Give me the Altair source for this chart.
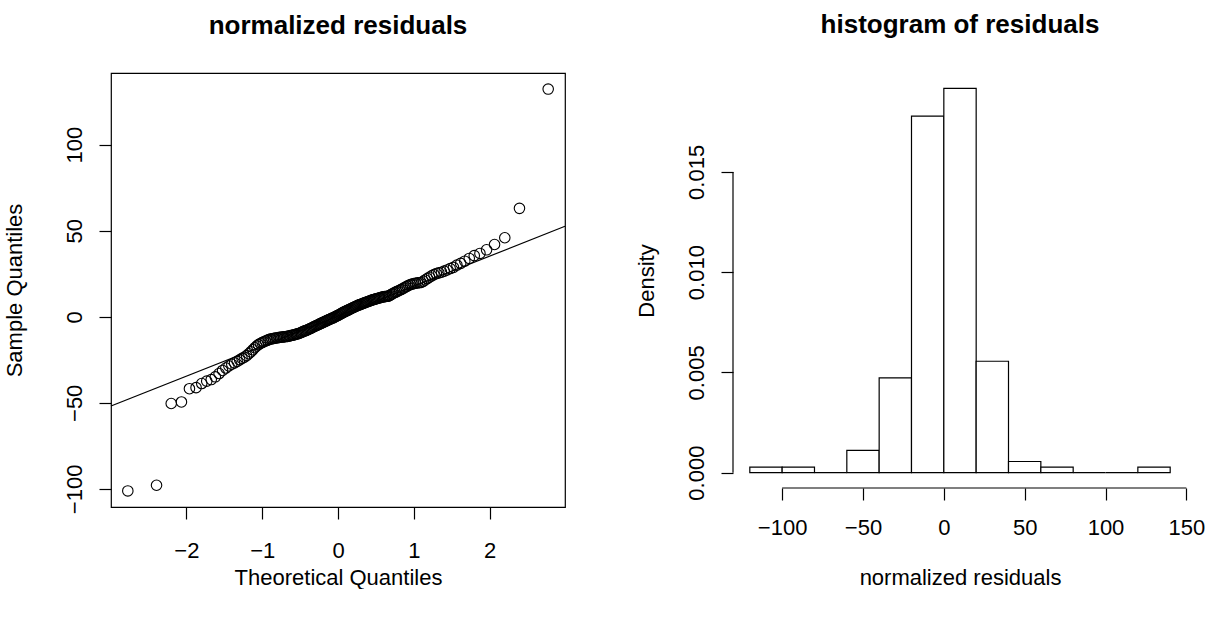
import altair as alt
import numpy as np
import pandas as pd
from statistics import NormalDist

# Sorted normalized residuals (n = 180)
residuals = [
    -101.2, -97.9, -50.4, -49.5, -41.8, -41.2, -38.8, -37.4, -36.5, -34.9, -33.0, -31.2, -29.8,
    -28.6, -27.6, -26.8, -25.9, -25.0, -24.2, -23.5, -22.6, -21.5, -20.4, -19.2, -18.0, -17.0,
    -16.2, -15.5, -15.0, -14.5, -14.1, -13.7, -13.3,
    -13.0, -12.8, -12.6, -12.4, -12.3, -12.2, -12.0, -11.9, -11.8, -11.7, -11.6, -11.5, -11.4,
    -11.2, -11.0, -10.8, -10.7, -10.5, -10.3, -10.1, -9.9, -9.7, -9.4, -9.1, -8.8, -8.5, -8.2,
    -8.0, -7.7, -7.4, -7.1, -6.8, -6.5, -6.1, -5.8, -5.5, -5.2, -4.9, -4.6, -4.3, -4.0, -3.7,
    -3.4, -3.1, -2.8, -2.5, -2.2, -1.9, -1.6, -1.4, -1.1, -0.8, -0.6, -0.3, 0.1, 0.4, 0.7,
    1.0, 1.3, 1.7, 2.0, 2.4, 2.7, 3.0, 3.3, 3.6, 3.9, 4.2, 4.5, 4.8, 5.1, 5.4, 5.7, 6.0, 6.3,
    6.6, 6.8, 7.1, 7.3, 7.6, 7.8, 8.1, 8.3, 8.6, 8.8, 9.0, 9.3, 9.5, 9.8, 10.0, 10.2, 10.4,
    10.6, 10.8, 11.0, 11.2, 11.4, 11.6, 11.7, 11.8, 11.9,
    12.0, 12.4, 12.9, 13.4, 13.8, 14.2, 14.6, 15.0, 15.4, 15.8, 16.3, 16.8, 17.3, 17.8, 18.3,
    18.7, 19.0, 19.3, 19.5, 19.7, 19.8, 19.9,
    20.6, 21.4, 22.2, 23.0, 23.8, 24.5, 25.1, 25.5, 25.9, 26.5, 27.2, 28.0, 28.7, 30.0, 31.0,
    32.3, 33.9, 35.5, 36.8, 38.9, 42.0, 45.9, 63.0, 132.3,
]

qq_x_ticks = [-2, -1, 0, 1, 2]
qq_y_ticks = [-100, -50, 0, 50, 100]
hist_breaks = list(range(-120, 141, 20))
hist_x_ticks = [-100, -50, 0, 50, 100, 150]
hist_y_ticks = [0.0, 0.005, 0.010, 0.015]

FONT = "Liberation Sans"
MINUS = "replace(datum.label, '-', '\u2212')"

# ---- normal Q-Q data -------------------------------------------------------
nd = NormalDist()
sample = sorted(residuals)
n = len(sample)
theo = [nd.inv_cdf((i + 0.5) / n) for i in range(n)]  # ppoints(n), a = 0.5
qq = pd.DataFrame({"theoretical": theo, "sample": sample})

# reference line through the first and third quartiles
q1, q3 = np.quantile(sample, [0.25, 0.75])
z1, z3 = nd.inv_cdf(0.25), nd.inv_cdf(0.75)
slope = (q3 - q1) / (z3 - z1)
intercept = q1 - slope * z1


def padded(lo, hi, frac=0.04):
    d = (hi - lo) * frac
    return [lo - d, hi + d]


qx_dom = padded(min(theo), max(theo))
qy_dom = padded(min(sample), max(sample))
qqline = pd.DataFrame({"theoretical": qx_dom,
                       "sample": [intercept + slope * x for x in qx_dom]})

# ---- histogram data (right-closed bins) ------------------------------------
counts = pd.cut(pd.Series(sample), bins=hist_breaks, right=True,
                include_lowest=True).value_counts(sort=False).values
hist = pd.DataFrame({"lo": hist_breaks[:-1], "hi": hist_breaks[1:], "count": counts})
hist["density"] = hist["count"] / (n * (hist["hi"] - hist["lo"]))
hist["base"] = 0.0
hx_dom = padded(hist_breaks[0], hist_breaks[-1])
hy_dom = padded(0.0, float(hist["density"].max()))

W = 454
HL = 434
HR = 415

# ---- left panel: normal Q-Q plot ------------------------------------------
qx_scale = alt.Scale(domain=qx_dom, nice=False, zero=False)
qy_scale = alt.Scale(domain=qy_dom, nice=False, zero=False)
qx_axis = alt.Axis(values=qq_x_ticks, title="Theoretical Quantiles", domain=False,
                   labelExpr=MINUS, labelPadding=21, titleX=W / 2, titleY=77,
                   titleAlign="center", titleBaseline="alphabetic")
qy_axis = alt.Axis(values=qq_y_ticks, title="Sample Quantiles", domain=False,
                   labelExpr=MINUS, labelAngle=270, labelAlign="center",
                   labelBaseline="alphabetic", labelPadding=18,
                   titleAngle=270, titleX=-90, titleY=HL / 2,
                   titleAlign="center", titleBaseline="alphabetic")

points = alt.Chart(qq).mark_point(
    shape="circle", filled=False, color="black", size=110, strokeWidth=1.1, opacity=1
).encode(
    x=alt.X("theoretical:Q", scale=qx_scale, axis=qx_axis),
    y=alt.Y("sample:Q", scale=qy_scale, axis=qy_axis),
)

ref_line = alt.Chart(qqline).mark_line(color="black", strokeWidth=1.2).encode(
    x=alt.X("theoretical:Q", scale=qx_scale, axis=qx_axis),
    y=alt.Y("sample:Q", scale=qy_scale, axis=qy_axis),
)

left = alt.layer(points, ref_line).properties(
    width=W, height=HL,
    title=alt.TitleParams("normalized residuals", anchor="middle", baseline="alphabetic",
                          offset=13),
    view=alt.ViewBackground(stroke="black", strokeWidth=1.2, strokeOpacity=1),
)

# ---- right panel: histogram ------------------------------------------------
hx_scale = alt.Scale(domain=hx_dom, nice=False, zero=False)
hy_scale = alt.Scale(domain=hy_dom, nice=False, zero=False)
hx_axis = alt.Axis(values=hist_x_ticks, title="normalized residuals", domain=False,
                   labelExpr=MINUS, labelPadding=17, titleX=W / 2, titleY=96,
                   titleAlign="center", titleBaseline="alphabetic")
hy_axis = alt.Axis(values=hist_y_ticks, title="Density", domain=False, format=".3f",
                   labelAngle=270, labelAlign="center", labelBaseline="alphabetic",
                   labelPadding=18, titleAngle=270, titleX=-80, titleY=HR / 2,
                   titleAlign="center", titleBaseline="alphabetic")

bars = alt.Chart(hist).mark_rect(fill="white", stroke="black", strokeWidth=1.2).encode(
    x=alt.X("lo:Q", scale=hx_scale, axis=hx_axis),
    x2="hi:Q",
    y=alt.Y("density:Q", scale=hy_scale, axis=hy_axis),
    y2="base:Q",
)

# axis lines spanning only the first to last tick
x_axis_line = alt.Chart(
    pd.DataFrame({"lo": [hist_x_ticks[0]], "hi": [hist_x_ticks[-1]]})
).mark_rule(color="black", strokeWidth=1.2).encode(
    x=alt.X("lo:Q", scale=hx_scale, axis=hx_axis), x2="hi:Q", y=alt.value(HR)
)
y_axis_line = alt.Chart(
    pd.DataFrame({"density": [hist_y_ticks[-1]], "base": [hist_y_ticks[0]]})
).mark_rule(color="black", strokeWidth=1.2).encode(
    y=alt.Y("density:Q", scale=hy_scale, axis=hy_axis), y2="base:Q", x=alt.value(0)
)

right = alt.layer(bars, x_axis_line, y_axis_line).properties(
    width=W, height=HR,
    title=alt.TitleParams("histogram of residuals", anchor="middle", baseline="alphabetic",
                          offset=14),
)

chart = alt.hconcat(left, right, spacing=66).properties(
    padding={"left": 2, "top": 11, "right": 0, "bottom": 0},
    background="white",
).configure_view(
    stroke="transparent"
).configure_axis(
    labelFont=FONT, titleFont=FONT, labelFontSize=22, titleFontSize=22,
    titleFontWeight="normal", labelColor="black", titleColor="black",
    tickColor="black", tickWidth=1.2, tickSize=12, grid=False,
    labelFlush=False, labelOverlap=False,
).configure_title(
    font=FONT, fontSize=26, fontWeight="bold", color="black"
)

chart.save("out.html", embed_options={"renderer": "svg", "actions": False})
